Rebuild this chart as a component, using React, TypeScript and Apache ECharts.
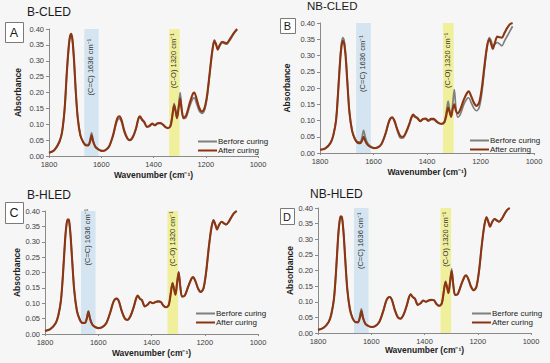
import React, { useEffect, useRef } from 'react';
import * as echarts from 'echarts';

const WAVENUMBERS = [
  1800, 1780, 1760, 1750, 1740, 1732, 1725, 1720, 1715, 1710,
  1704, 1698, 1690, 1680, 1670, 1660, 1650, 1643, 1637, 1631,
  1622, 1610, 1598, 1585, 1570, 1555, 1545, 1538, 1530, 1522,
  1512, 1500, 1490, 1478, 1466, 1458, 1452, 1444, 1436, 1425,
  1415, 1405, 1395, 1385, 1375, 1365, 1355, 1345, 1335, 1328,
  1321, 1315, 1310, 1304, 1298, 1292, 1285, 1275, 1262, 1250,
  1244, 1235, 1225, 1215, 1205, 1195, 1185, 1175, 1167, 1160,
  1154, 1146, 1137, 1128, 1120, 1110, 1100, 1090, 1080,
];

const A_AFTER = [
  0.010, 0.018, 0.045, 0.075, 0.150, 0.260, 0.340, 0.375, 0.385, 0.365,
  0.300, 0.210, 0.120, 0.065, 0.045, 0.034, 0.033, 0.045, 0.065, 0.045,
  0.028, 0.020, 0.016, 0.018, 0.030, 0.065, 0.100, 0.120, 0.125, 0.112,
  0.080, 0.056, 0.050, 0.062, 0.090, 0.118, 0.125, 0.115, 0.108, 0.092,
  0.095, 0.102, 0.097, 0.103, 0.104, 0.100, 0.092, 0.088, 0.095, 0.125,
  0.160, 0.140, 0.120, 0.150, 0.182, 0.145, 0.120, 0.128, 0.165, 0.195,
  0.200, 0.180, 0.152, 0.140, 0.150, 0.190, 0.260, 0.330, 0.362, 0.350,
  0.335, 0.350, 0.360, 0.357, 0.355, 0.365, 0.378, 0.390, 0.400,
];
const A_BEFORE = [
  0.010, 0.018, 0.045, 0.075, 0.150, 0.260, 0.338, 0.372, 0.382, 0.362,
  0.298, 0.208, 0.120, 0.066, 0.046, 0.036, 0.036, 0.050, 0.073, 0.050,
  0.030, 0.021, 0.016, 0.018, 0.030, 0.062, 0.095, 0.112, 0.118, 0.106,
  0.076, 0.054, 0.049, 0.060, 0.088, 0.115, 0.122, 0.113, 0.106, 0.091,
  0.094, 0.101, 0.096, 0.102, 0.103, 0.099, 0.091, 0.087, 0.095, 0.128,
  0.166, 0.142, 0.118, 0.158, 0.200, 0.150, 0.118, 0.122, 0.155, 0.180,
  0.183, 0.165, 0.142, 0.134, 0.144, 0.185, 0.258, 0.332, 0.366, 0.352,
  0.336, 0.348, 0.357, 0.354, 0.352, 0.362, 0.375, 0.388, 0.398,
];
const B_AFTER = [
  0.010, 0.014, 0.032, 0.055, 0.100, 0.190, 0.280, 0.325, 0.345, 0.338,
  0.295, 0.220, 0.125, 0.068, 0.044, 0.032, 0.030, 0.038, 0.050, 0.038,
  0.025, 0.018, 0.015, 0.017, 0.028, 0.060, 0.090, 0.105, 0.110, 0.100,
  0.075, 0.052, 0.050, 0.065, 0.090, 0.110, 0.118, 0.112, 0.108, 0.098,
  0.105, 0.106, 0.100, 0.105, 0.105, 0.098, 0.092, 0.090, 0.095, 0.115,
  0.140, 0.125, 0.112, 0.135, 0.150, 0.130, 0.122, 0.135, 0.165, 0.185,
  0.190, 0.175, 0.155, 0.145, 0.155, 0.200, 0.270, 0.330, 0.350, 0.335,
  0.320, 0.340, 0.358, 0.356, 0.355, 0.370, 0.385, 0.396, 0.400,
];
const B_BEFORE = [
  0.010, 0.014, 0.032, 0.056, 0.102, 0.195, 0.288, 0.335, 0.355, 0.348,
  0.303, 0.225, 0.128, 0.069, 0.045, 0.034, 0.034, 0.048, 0.070, 0.050,
  0.030, 0.020, 0.016, 0.017, 0.028, 0.058, 0.088, 0.103, 0.108, 0.098,
  0.072, 0.047, 0.046, 0.062, 0.088, 0.108, 0.115, 0.110, 0.106, 0.097,
  0.103, 0.104, 0.098, 0.103, 0.103, 0.096, 0.091, 0.089, 0.095, 0.125,
  0.160, 0.130, 0.110, 0.150, 0.195, 0.140, 0.110, 0.120, 0.150, 0.168,
  0.170, 0.155, 0.138, 0.130, 0.140, 0.185, 0.260, 0.330, 0.355, 0.345,
  0.330, 0.335, 0.340, 0.335, 0.330, 0.345, 0.360, 0.375, 0.390,
];
const C_AFTER = [
  0.010, 0.016, 0.035, 0.060, 0.110, 0.200, 0.300, 0.350, 0.372, 0.370,
  0.320, 0.240, 0.140, 0.075, 0.048, 0.036, 0.036, 0.050, 0.072, 0.050,
  0.030, 0.022, 0.019, 0.022, 0.035, 0.070, 0.100, 0.112, 0.115, 0.105,
  0.075, 0.050, 0.046, 0.060, 0.090, 0.115, 0.125, 0.115, 0.110, 0.090,
  0.095, 0.104, 0.100, 0.104, 0.106, 0.104, 0.092, 0.087, 0.095, 0.130,
  0.165, 0.145, 0.128, 0.165, 0.200, 0.155, 0.122, 0.125, 0.155, 0.180,
  0.185, 0.172, 0.148, 0.137, 0.148, 0.200, 0.280, 0.345, 0.370, 0.355,
  0.340, 0.355, 0.365, 0.360, 0.356, 0.365, 0.380, 0.393, 0.400,
];
const C_BEFORE = [
  0.010, 0.016, 0.035, 0.060, 0.110, 0.200, 0.300, 0.350, 0.373, 0.371,
  0.321, 0.241, 0.141, 0.076, 0.049, 0.037, 0.037, 0.052, 0.075, 0.052,
  0.031, 0.022, 0.019, 0.022, 0.035, 0.070, 0.100, 0.112, 0.115, 0.105,
  0.075, 0.050, 0.046, 0.060, 0.090, 0.115, 0.124, 0.115, 0.110, 0.090,
  0.095, 0.104, 0.100, 0.104, 0.106, 0.104, 0.092, 0.087, 0.095, 0.131,
  0.167, 0.146, 0.128, 0.167, 0.203, 0.156, 0.121, 0.124, 0.154, 0.179,
  0.184, 0.171, 0.147, 0.136, 0.147, 0.199, 0.280, 0.346, 0.371, 0.356,
  0.340, 0.355, 0.365, 0.360, 0.356, 0.365, 0.380, 0.393, 0.400,
];
const D_AFTER = [
  0.010, 0.016, 0.035, 0.060, 0.110, 0.200, 0.300, 0.350, 0.373, 0.370,
  0.320, 0.240, 0.140, 0.075, 0.047, 0.035, 0.034, 0.048, 0.070, 0.048,
  0.029, 0.022, 0.019, 0.022, 0.035, 0.070, 0.100, 0.112, 0.115, 0.105,
  0.075, 0.050, 0.046, 0.060, 0.090, 0.115, 0.124, 0.115, 0.110, 0.090,
  0.095, 0.104, 0.100, 0.104, 0.106, 0.105, 0.093, 0.087, 0.095, 0.130,
  0.163, 0.145, 0.128, 0.163, 0.198, 0.155, 0.122, 0.125, 0.155, 0.180,
  0.185, 0.172, 0.148, 0.137, 0.148, 0.200, 0.280, 0.345, 0.370, 0.355,
  0.340, 0.355, 0.365, 0.360, 0.356, 0.365, 0.380, 0.393, 0.400,
];
const D_BEFORE = [
  0.010, 0.016, 0.035, 0.060, 0.110, 0.200, 0.300, 0.350, 0.374, 0.371,
  0.321, 0.241, 0.141, 0.076, 0.048, 0.036, 0.036, 0.053, 0.077, 0.052,
  0.030, 0.022, 0.019, 0.022, 0.035, 0.070, 0.100, 0.112, 0.115, 0.105,
  0.075, 0.050, 0.046, 0.060, 0.090, 0.115, 0.124, 0.115, 0.110, 0.090,
  0.095, 0.104, 0.100, 0.104, 0.106, 0.105, 0.093, 0.087, 0.095, 0.131,
  0.166, 0.146, 0.128, 0.167, 0.205, 0.156, 0.121, 0.124, 0.154, 0.179,
  0.184, 0.171, 0.147, 0.136, 0.147, 0.199, 0.280, 0.346, 0.371, 0.356,
  0.340, 0.355, 0.365, 0.360, 0.356, 0.365, 0.380, 0.393, 0.400,
];

const TITLES = ['B-CLED', 'NB-CLED', 'B-HLED', 'NB-HLED'];
const LETTERS = ['A', 'B', 'C', 'D'];
const BEFORE_SERIES = [A_BEFORE, B_BEFORE, C_BEFORE, D_BEFORE];
const AFTER_SERIES = [A_AFTER, B_AFTER, C_AFTER, D_AFTER];
const SERIES_NAMES = ['Berfore curing', 'After curing'];
const BAND_CC = [1665, 1610];
const BAND_CO = [1340, 1300];
const BAND_LABELS = ['(C=C) 1636 cm\u207B\u00B9', '(C-O) 1320 cm\u207B\u00B9'];

// layout (pixels)
const LAYOUT = [
  { grid: { left: 49, top: 29, width: 209, height: 127 }, title: { x: 27, y: 6, size: 12 }, box: { x: 5, y: 22, w: 18, h: 20, size: 12.5 }, legend: { left: 193, top: 132 }, yGap: 27, xGap: 14, ccY: 0.28, coY: 0.30 },
  { grid: { left: 320, top: 23, width: 214, height: 130 }, title: { x: 307, y: 0, size: 11.5 }, box: { x: 280, y: 18, w: 15, h: 15, size: 11 }, legend: { left: 465, top: 131 }, yGap: 29, xGap: 14, ccY: 0.275, coY: 0.285 },
  { grid: { left: 45, top: 211, width: 213, height: 123 }, title: { x: 27, y: 189, size: 12 }, box: { x: 5, y: 202, w: 18, h: 21, size: 12.5 }, legend: { left: 191, top: 304 }, yGap: 24, xGap: 14, ccY: 0.315, coY: 0.31 },
  { grid: { left: 318, top: 208, width: 213, height: 125 }, title: { x: 310, y: 188, size: 12 }, box: { x: 280, y: 208, w: 14, h: 16, size: 11 }, legend: { left: 467, top: 304 }, yGap: 24, xGap: 11, ccY: 0.295, coY: 0.30 },
];

const FONT = '"Liberation Sans", Arial, sans-serif';
const GRAY = '#7f7f7f';
const BROWN = '#8c3512';
const BLUE_BAND = '#d4e5f1';
const YELLOW_BAND = '#f0f09c';

export default function App() {
  const ref = useRef<HTMLDivElement>(null);
  useEffect(() => {
    document.body.style.margin = '0';
    if (!ref.current) return;
    const chart = echarts.init(ref.current, undefined, { renderer: 'svg' });

    const grid = LAYOUT.map((l) => ({ ...l.grid }));
    const xAxis = LAYOUT.map((l, i) => ({
      type: 'value', gridIndex: i, min: 1000, max: 1800, interval: 200, inverse: true,
      name: 'Wavenumber (cm\u207B\u00B9)', nameLocation: 'middle', nameGap: l.xGap,
      nameTextStyle: { fontFamily: FONT, fontSize: 8.5, fontWeight: 'bold', color: '#222' },
      axisLine: { show: true, lineStyle: { color: '#8a8a8a', width: 1 } },
      axisTick: { show: true, length: 2, lineStyle: { color: '#8a8a8a' } },
      axisLabel: { fontFamily: FONT, fontSize: 7.5, color: '#404040', margin: 4, formatter: (v: number) => String(v) },
      splitLine: { show: false },
    }));
    const yAxis = LAYOUT.map((l, i) => ({
      type: 'value', gridIndex: i, min: 0, max: 0.4, interval: 0.05,
      name: 'Absorbance', nameLocation: 'middle', nameGap: l.yGap,
      nameTextStyle: { fontFamily: FONT, fontSize: 8.5, fontWeight: 'bold', color: '#222' },
      axisLine: { show: true, lineStyle: { color: '#8a8a8a', width: 1 } },
      axisTick: { show: true, length: 3, lineStyle: { color: '#8a8a8a' } },
      axisLabel: { fontFamily: FONT, fontSize: 7.5, color: '#404040', margin: 5, formatter: (v: number) => v.toFixed(2) },
      splitLine: { show: false },
    }));

    const series: any[] = [];
    LAYOUT.forEach((l, i) => {
      series.push({
        type: 'line', name: SERIES_NAMES[0], xAxisIndex: i, yAxisIndex: i,
        data: WAVENUMBERS.map((w, k) => [w, BEFORE_SERIES[i][k]]),
        symbol: 'none', smooth: 0.3, clip: false,
        lineStyle: { color: GRAY, width: 1.7 }, itemStyle: { color: GRAY },
        markArea: {
          silent: true,
          data: [
            [{ xAxis: BAND_CC[0], yAxis: 0, itemStyle: { color: BLUE_BAND } }, { xAxis: BAND_CC[1], yAxis: 0.42 }],
            [{ xAxis: BAND_CO[0], yAxis: 0, itemStyle: { color: YELLOW_BAND } }, { xAxis: BAND_CO[1], yAxis: 0.42 }],
          ],
        },
      });
      series.push({
        type: 'line', name: SERIES_NAMES[1], xAxisIndex: i, yAxisIndex: i,
        data: WAVENUMBERS.map((w, k) => [w, AFTER_SERIES[i][k]]),
        symbol: 'none', smooth: 0.3,
        lineStyle: { color: BROWN, width: 2.1 }, itemStyle: { color: BROWN },
        markPoint: {
          silent: true, symbol: 'rect', symbolSize: 0,
          label: { show: true, position: 'inside', rotate: 90, formatter: '{b}', fontFamily: FONT, fontSize: 7.5, color: '#333' },
          data: [
            { name: BAND_LABELS[0], coord: [1641, l.ccY] },
            { name: BAND_LABELS[1], coord: [1322, l.coY] },
          ],
        },
      });
    });

    const legend = LAYOUT.map((l) => ({
      left: l.legend.left, top: l.legend.top, orient: 'vertical',
      itemWidth: 19, itemHeight: 2, itemGap: 0, selectedMode: false,
      icon: 'rect',
      data: SERIES_NAMES,
      textStyle: { fontFamily: FONT, fontSize: 8, color: '#222', lineHeight: 9, padding: [0, 0, 0, -4] },
    }));

    const title = LAYOUT.map((l, i) => ({
      text: TITLES[i], left: l.title.x, top: l.title.y, padding: 0,
      textStyle: { fontFamily: FONT, fontSize: l.title.size, fontWeight: 'normal', color: '#1a1a1a' },
    }));

    const graphic: any[] = [];
    LAYOUT.forEach((l, i) => {
      graphic.push({
        type: 'rect', left: l.box.x, top: l.box.y,
        shape: { width: l.box.w, height: l.box.h },
        style: { fill: '#ffffff', stroke: '#7a7a7a', lineWidth: 1 },
      });
      graphic.push({
        type: 'text', x: l.box.x + l.box.w / 2, y: l.box.y + l.box.h / 2 + 0.5,
        style: { text: LETTERS[i], fontFamily: FONT, fontSize: l.box.size, fill: '#1a1a1a', align: 'center', verticalAlign: 'middle' },
      });
    });

    chart.setOption({
      animation: false,
      backgroundColor: '#f6f6f6',
      title, grid, xAxis, yAxis, series, legend, graphic,
    });
    return () => chart.dispose();
  }, []);
  return <div ref={ref} style={{ width: 550, height: 363 }} />;
}
